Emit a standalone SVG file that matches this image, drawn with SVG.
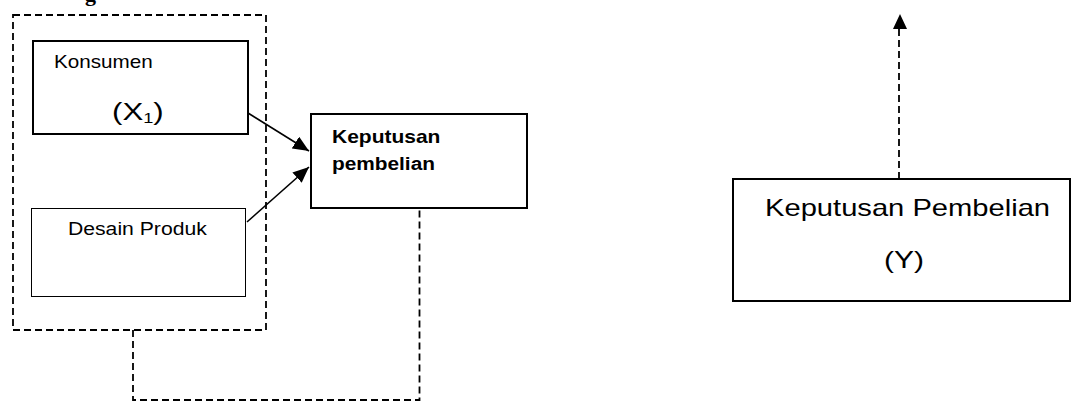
<svg xmlns="http://www.w3.org/2000/svg" width="1072" height="402" viewBox="0 0 1072 402">
<style>
.box{fill:#fff;stroke:#000;stroke-width:2}
.thin{fill:#fff;stroke:#000;stroke-width:1}
.dash{fill:none;stroke:#000;stroke-width:1.8;stroke-dasharray:7,4}
.t{font-family:"Liberation Sans",Arial,sans-serif;fill:#000}
.b{font-weight:bold}
.arr{stroke:#000;stroke-width:1.6;fill:none}
</style>
<defs>
<marker id="ah" markerUnits="userSpaceOnUse" markerWidth="18" markerHeight="14" refX="16" refY="7" orient="auto">
<path d="M0,0 L16,7 L0,14 Z" fill="#000"/>
</marker>
</defs>
<text class="t" x="85" y="1" style="font-family:'Liberation Serif',serif;font-weight:bold;font-size:22px">g</text>
<g id="group-x">
<rect class="dash" x="13" y="15" width="253" height="315"/>
</g>
<g id="konsumen">
<rect class="box" x="33" y="41" width="215" height="93"/>
<text class="t" transform="translate(54,68) scale(1.18,1)" font-size="17.5">Konsumen</text>
<text class="t" transform="translate(112,120) scale(1.3,1)" font-size="24">(X<tspan font-size="14" dy="3">1</tspan><tspan dy="-3">)</tspan></text>
</g>
<g id="desain">
<rect class="thin" x="31.5" y="208.5" width="214" height="88"/>
<text class="t" transform="translate(68,235) scale(1.21,1)" font-size="17.5">Desain Produk</text>
</g>
<g id="keputusan1">
<rect class="box" x="311" y="114" width="216" height="94"/>
<text class="t b" transform="translate(332,143) scale(1.2,1)" font-size="17.5">Keputusan</text>
<text class="t b" transform="translate(332,170) scale(1.19,1)" font-size="17.5">pembelian</text>
</g>
<g id="keputusan2">
<rect class="box" x="733" y="179" width="337" height="122"/>
<text class="t" transform="translate(765,216) scale(1.214,1)" font-size="24">Keputusan Pembelian</text>
<text class="t" transform="translate(884,268) scale(1.25,1)" font-size="24">(Y)</text>
</g>
<g id="connectors">
<line class="arr" x1="248" y1="113" x2="309" y2="151" marker-end="url(#ah)"/>
<line class="arr" x1="247" y1="222" x2="309" y2="167" marker-end="url(#ah)"/>
<path class="dash" d="M133,330 V400 H419.5 V208"/>
<line class="dash" x1="899" y1="179" x2="899" y2="28"/>
<path d="M900,14 L907,29 L893,29 Z" fill="#000"/>
</g>
</svg>
